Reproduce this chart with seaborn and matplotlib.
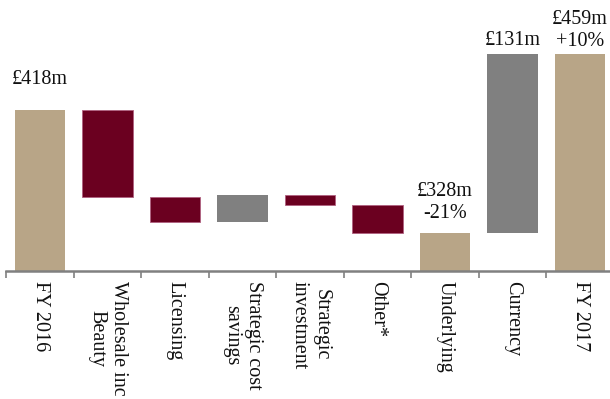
import matplotlib
matplotlib.use("Agg")
import matplotlib.pyplot as plt
import seaborn as sns
import numpy as np
import pandas as pd

categories = ["FY 2016", "Wholesale inc\nBeauty", "Licensing", "Strategic cost\nsavings",
              "Strategic\ninvestment", "Other*", "Underlying", "Currency", "FY 2017"]
kinds = ["total", "down", "down", "up", "down", "down", "total", "up", "total"]
deltas = [418, -64, -18, 20, -8, -20, 328, 131, 459]
bar_labels = ["£418m", "", "", "", "", "", "£328m\n-21%", "£131m", "£459m\n+10%"]
label_offsets = [15, 0, 0, 0, 0, 0, 7, 3, 2]

colors = {"total": "#B8A587", "down": "#6B0020", "up": "#808080"}

# compute waterfall bottoms/heights from the data
bottoms, heights = [], []
running = 0
for k, d in zip(kinds, deltas):
    if k == "total":
        bottoms.append(0)
        heights.append(d)
        running = d
    else:
        new = running + d
        bottoms.append(min(running, new))
        heights.append(abs(d))
        running = new

df = pd.DataFrame({"cat": categories, "height": heights, "bottom": bottoms, "kind": kinds})

sns.set_style("white")
plt.rcParams["font.family"] = ["Liberation Serif", "DejaVu Serif"]

fig = plt.figure(figsize=(6.10, 3.99), dpi=100)
ax = fig.add_axes([6.25 / 610, 128 / 399, 607.5 / 610, 271 / 399])

sns.barplot(data=df, x="cat", y="height", bottom=df["bottom"].values, color="#808080",
            width=0.75, ax=ax, errorbar=None, linewidth=0)
for p, k in zip(ax.patches, kinds):
    p.set_facecolor(colors[k])
    if k == "down":
        p.set_edgecolor("#B06080")
        p.set_linewidth(0.6)

ax.set_ylim(300, 498.5)
ax.set_xlim(-0.5, 8.5)

for i, (lab, off) in enumerate(zip(bar_labels, label_offsets)):
    if lab:
        top = bottoms[i] + heights[i]
        ax.annotate(lab, xy=(i, top), xytext=(0, off), textcoords="offset points",
                    ha="center", va="bottom", fontsize=14.5, linespacing=1.2,
                    multialignment="center", color="#111111")

for s in ["top", "right", "left"]:
    ax.spines[s].set_visible(False)
ax.spines["bottom"].set_color("#808080")
ax.spines["bottom"].set_linewidth(1.8)
ax.set_yticks([])
ax.set_xlabel("")
ax.set_ylabel("")

ax.set_xticks(np.arange(-0.5, 8.6, 1.0))
ax.set_xticklabels([])
ax.tick_params(axis="x", which="major", bottom=True, length=5, width=1.2,
               color="#808080", direction="out")
ax.set_xticks(np.arange(0, 9), minor=True)
ax.set_xticklabels(categories, minor=True, rotation=270, ha="center", va="top",
                   multialignment="center", fontsize=14.5, color="#111111")
ax.tick_params(axis="x", which="minor", bottom=True, length=0, pad=7)

fig.savefig("out.png", dpi=100)
